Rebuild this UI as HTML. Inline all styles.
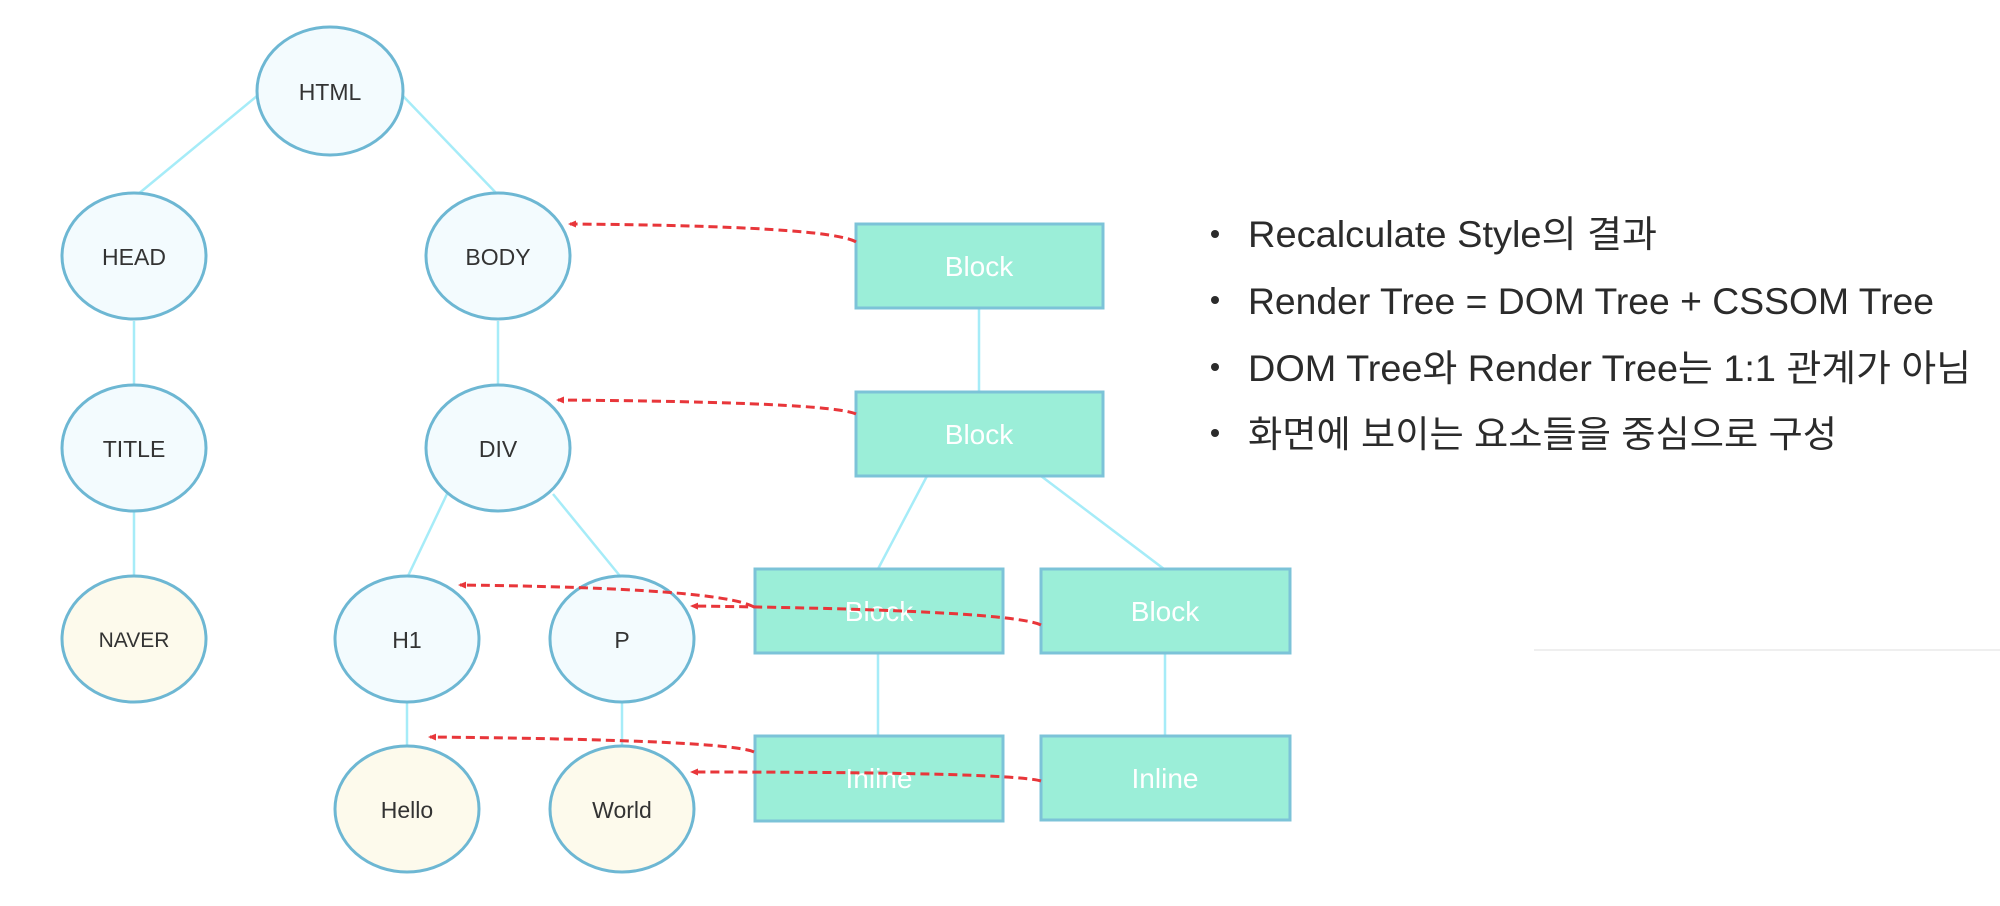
<!DOCTYPE html>
<html><head><meta charset="utf-8"><style>
html,body{margin:0;padding:0;background:#fff;}
svg{display:block;}
</style></head><body>
<svg width="2000" height="906" viewBox="0 0 2000 906" xmlns="http://www.w3.org/2000/svg">
<defs>
<marker id="ah" markerWidth="8" markerHeight="8" refX="6" refY="4" orient="auto" markerUnits="userSpaceOnUse">
<path d="M0,0.5 L8,4 L0,7.5 z" fill="#e8363a"/>
</marker>
</defs>
<rect width="2000" height="906" fill="#fff"/>
<line x1="1534" y1="650" x2="2000" y2="650" stroke="#efefef" stroke-width="2"/>
<g stroke="#a6ecf8" stroke-width="2.5">
<line x1="257" y1="96" x2="137" y2="195"/>
<line x1="403" y1="96" x2="498" y2="195"/>
<line x1="134" y1="321" x2="134" y2="384"/>
<line x1="134" y1="511" x2="134" y2="576"/>
<line x1="498" y1="321" x2="498" y2="384"/>
<line x1="447" y1="494" x2="408" y2="576"/>
<line x1="553" y1="494" x2="620" y2="576"/>
<line x1="407" y1="703" x2="407" y2="745"/>
<line x1="622" y1="703" x2="622" y2="745"/>
<line x1="979" y1="308" x2="979" y2="392"/>
<line x1="927" y1="476" x2="878" y2="569"/>
<line x1="1041" y1="476" x2="1164" y2="569"/>
<line x1="878" y1="653" x2="878" y2="736"/>
<line x1="1165" y1="653" x2="1165" y2="736"/>
</g>
<g stroke="#6db7d3" stroke-width="3">
<ellipse cx="330" cy="91" rx="73" ry="64" fill="#f3fbfe"/>
<ellipse cx="134" cy="256" rx="72" ry="63" fill="#f3fbfe"/>
<ellipse cx="498" cy="256" rx="72" ry="63" fill="#f3fbfe"/>
<ellipse cx="134" cy="448" rx="72" ry="63" fill="#f3fbfe"/>
<ellipse cx="498" cy="448" rx="72" ry="63" fill="#f3fbfe"/>
<ellipse cx="134" cy="639" rx="72" ry="63" fill="#fdfaec"/>
<ellipse cx="407" cy="639" rx="72" ry="63" fill="#f3fbfe"/>
<ellipse cx="622" cy="639" rx="72" ry="63" fill="#f3fbfe"/>
<ellipse cx="407" cy="809" rx="72" ry="63" fill="#fdfaec"/>
<ellipse cx="622" cy="809" rx="72" ry="63" fill="#fdfaec"/>
</g>
<g font-family="Liberation Sans, sans-serif" font-size="23" fill="#333" text-anchor="middle">
<text x="330" y="100">HTML</text>
<text x="134" y="265">HEAD</text>
<text x="498" y="265">BODY</text>
<text x="134" y="457">TITLE</text>
<text x="498" y="457">DIV</text>
<text x="134" y="647" font-size="21">NAVER</text>
<text x="407" y="648">H1</text>
<text x="622" y="648">P</text>
<text x="407" y="818">Hello</text>
<text x="622" y="818">World</text>
</g>
<g fill="#9beed8" stroke="#7cc3d8" stroke-width="3">
<rect x="856" y="224" width="247" height="84"/>
<rect x="856" y="392" width="247" height="84"/>
<rect x="755" y="569" width="248" height="84"/>
<rect x="1041" y="569" width="249" height="84"/>
<rect x="755" y="736" width="248" height="85"/>
<rect x="1041" y="736" width="249" height="84"/>
</g>
<g font-family="Liberation Sans, sans-serif" font-size="28" fill="#fff" text-anchor="middle">
<text x="979" y="276">Block</text>
<text x="979" y="444">Block</text>
<text x="879" y="621">Block</text>
<text x="1165" y="621">Block</text>
<text x="879" y="788">Inline</text>
<text x="1165" y="788">Inline</text>
</g>
<g fill="none" stroke="#e8363a" stroke-width="3" stroke-dasharray="9,5" marker-end="url(#ah)">
<path d="M856,242 Q830,226 570,224"/>
<path d="M856,414 Q830,402 558,400"/>
<path d="M754,607 Q720,588 460,585"/>
<path d="M1041,625 Q1010,610 692,606"/>
<path d="M754,752 Q730,740 430,737"/>
<path d="M1041,781 Q1010,772 692,772"/>
</g>
<g font-family="Liberation Sans, 'Noto Sans CJK KR', NanumGothic, sans-serif" font-size="37" fill="#2b2b2b">
<circle cx="1215" cy="234" r="4" fill="#2b2b2b"/>
<circle cx="1215" cy="300" r="4" fill="#2b2b2b"/>
<circle cx="1215" cy="367" r="4" fill="#2b2b2b"/>
<circle cx="1215" cy="433" r="4" fill="#2b2b2b"/>
<text x="1248" y="247" textLength="409" lengthAdjust="spacingAndGlyphs">Recalculate Style의 결과</text>
<text x="1248" y="314" textLength="686" lengthAdjust="spacingAndGlyphs">Render Tree = DOM Tree + CSSOM Tree</text>
<text x="1248" y="381" textLength="723" lengthAdjust="spacingAndGlyphs">DOM Tree와 Render Tree는 1:1 관계가 아님</text>
<text x="1248" y="447" textLength="589" lengthAdjust="spacingAndGlyphs">화면에 보이는 요소들을 중심으로 구성</text>
</g>
</svg>
</body></html>
